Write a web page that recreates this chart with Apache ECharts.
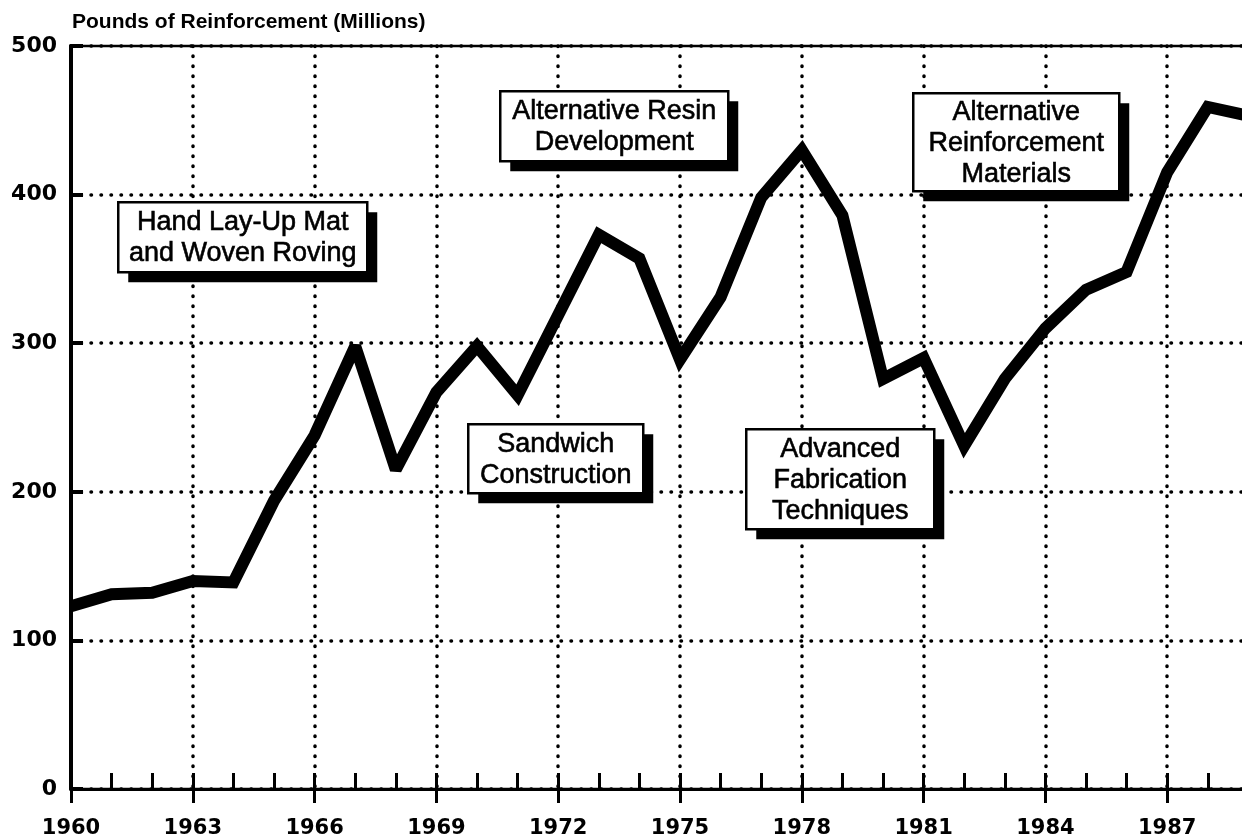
<!DOCTYPE html>
<html>
<head>
<meta charset="utf-8">
<script src="https://cdn.jsdelivr.net/npm/echarts@6/dist/echarts.min.js"></script>
<style>
  html, body { margin: 0; padding: 0; background: #fff; }
  #main { width: 1242px; height: 839px; }
</style>
</head>
<body>
<div id="main"></div>
<script>
// data
const years = [1960, 1961, 1962, 1963, 1964, 1965, 1966, 1967, 1968, 1969,
  1970, 1971, 1972, 1973, 1974, 1975, 1976, 1977, 1978, 1979,
  1980, 1981, 1982, 1983, 1984, 1985, 1986, 1987, 1988, 1989]
const pounds = [123, 131, 132, 140, 139, 194, 238, 298, 215, 267,
  298, 265, 319, 373, 357, 289, 331, 398, 430, 386,
  276, 290, 231, 276, 310, 336, 348, 415, 459, 453]
const yTicks = [0, 100, 200, 300, 400, 500]
const xTickLabels = [1960, 1963, 1966, 1969, 1972, 1975, 1978, 1981, 1984, 1987]

const notes = [
  'Hand Lay-Up Mat\nand Woven Roving',
  'Alternative Resin\nDevelopment',
  'Sandwich\nConstruction',
  'Advanced\nFabrication\nTechniques',
  'Alternative\nReinforcement\nMaterials'
]
// where each box sits (pixels)
const noteBoxes = [
  {x: 117, y: 201, w: 249, h: 70},
  {x: 499, y: 90, w: 228, h: 70},
  {x: 467, y: 423, w: 175, h: 69},
  {x: 745, y: 428, w: 188, h: 100},
  {x: 912, y: 92, w: 206, h: 98}
]

let points = []
for (let i = 0; i < years.length; i++) {
  points.push([years[i], pounds[i]])
}

let graphics = []
for (let i = 0; i < notes.length; i++) {
  let b = noteBoxes[i]
  graphics.push({
    type: 'group',
    left: b.x,
    top: b.y,
    z: 100,
    children: [
      {type: 'rect', z: 100, shape: {x: 10, y: 10, width: b.w, height: b.h}, style: {fill: '#000'}},
      {type: 'rect', z: 101, shape: {x: 0, y: 0, width: b.w, height: b.h}, style: {fill: '#fff', stroke: '#000', lineWidth: 2.5}},
      {
        type: 'text',
        z: 102,
        x: b.w / 2,
        y: b.h / 2 + 1,
        style: {
          text: notes[i],
          fill: '#000',
          stroke: '#000',
          lineWidth: 0.6,
          font: '27px "Liberation Sans", Arial, sans-serif',
          lineHeight: 31,
          align: 'center',
          verticalAlign: 'middle'
        }
      }
    ]
  })
}

const dotted = {color: '#000', width: 3.5, type: [0.5, 9.5], cap: 'round'}
const tickFont = {color: '#000', fontFamily: 'DejaVu Sans', fontWeight: 'bold', fontSize: 21}

let myChart = echarts.init(document.getElementById('main'))
myChart.setOption({
  animation: false,
  backgroundColor: '#fff',
  title: {
    text: 'Pounds of Reinforcement (Millions)',
    left: 67,
    top: 7,
    textStyle: {fontFamily: '"Liberation Sans", Arial', fontWeight: 'bold', fontSize: 21, color: '#000'}
  },
  grid: {
    left: 71, right: -47, top: 46, bottom: 50,
    containLabel: false,
    outerBoundsMode: 'none',
    show: true,
    borderColor: '#000',
    borderWidth: 2.5
  },
  xAxis: [
    {
      type: 'value',
      min: 1960,
      max: 1990,
      interval: 3,
      axisLine: {show: true, onZero: false, lineStyle: {color: '#000', width: 3}},
      axisTick: {show: true, inside: true, length: 16, lineStyle: {color: '#000', width: 3}},
      minorTick: {show: true, splitNumber: 3, length: 16, lineStyle: {color: '#000', width: 3}},
      axisLabel: {
        margin: 29,
        ...tickFont,
        formatter: function (v) {
          return xTickLabels.indexOf(v) >= 0 ? String(v) : ''
        }
      },
      splitLine: {show: true, lineStyle: dotted}
    },
    {
      type: 'value',
      position: 'bottom',
      min: 1960,
      max: 1990,
      interval: 3,
      axisLine: {show: false},
      axisTick: {show: true, inside: false, length: 14, lineStyle: {color: '#000', width: 3}},
      axisLabel: {show: false},
      splitLine: {show: false}
    }
  ],
  yAxis: {
    type: 'value',
    min: yTicks[0],
    max: yTicks[yTicks.length - 1],
    interval: 100,
    axisLine: {show: true, lineStyle: {color: '#000', width: 4}},
    axisTick: {show: true, inside: true, length: 12, lineStyle: {color: '#000', width: 4}},
    axisLabel: {margin: 14, ...tickFont, fontSize: 22},
    splitLine: {show: true, lineStyle: dotted}
  },
  series: [{
    type: 'line',
    data: points,
    showSymbol: false,
    symbol: 'none',
    clip: true,
    z: 5,
    lineStyle: {color: '#000', width: 12, join: 'miter', miterLimit: 2.5}
  }],
  graphic: graphics
})
</script>
</body>
</html>
